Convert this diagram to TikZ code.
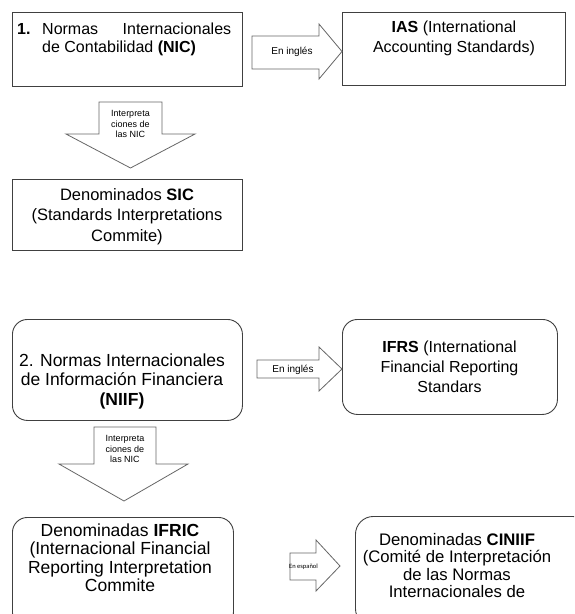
\documentclass[tikz,border=0pt]{standalone}
\usepackage{fontspec}
\setmainfont{Liberation Sans}
\newfontfamily\calib{Carlito}
\begin{document}
\begin{tikzpicture}[x=1pt,y=-1pt,
  box/.style={draw=black!75, line width=0.9pt, fill=white, inner sep=0pt, anchor=north west},
  rbox/.style={box, rounded corners=15pt},
  blockarrow/.style={draw=black!60, line width=0.8pt, fill=white, line join=miter},
  txt/.style={inner sep=0pt, anchor=north, align=center, text=black},
  small/.style={inner sep=0pt, align=center, text=black, font={\fontsize{9}{10.5}\selectfont}}
]
\useasboundingbox (0,0) rectangle (574,614);
\clip (0,0) rectangle (574,614);

% ---- boxes
\node[box, minimum width=230pt, minimum height=74pt] (nic) at (12,12) {};
\node[box, minimum width=223pt, minimum height=73pt] (ias) at (342,12) {};
\node[box, minimum width=230pt, minimum height=71pt] (sic) at (12,179) {};
\node[rbox, minimum width=230pt, minimum height=101pt] (niif) at (12,319) {};
\node[rbox, minimum width=215pt, minimum height=95pt] (ifrs) at (342,319) {};
\node[rbox, minimum width=221pt, minimum height=110pt] (ifric) at (12,517) {};
\node[box, rounded corners=18pt, minimum width=235pt, minimum height=110pt] (ciniif) at (355,516) {};

% ---- block arrows
\draw[blockarrow] (252,36) -- (319,36) -- (319,24) -- (342,51.5) -- (319,79) -- (319,69) -- (252,69) -- cycle;
\draw[blockarrow] (257,360) -- (319,360) -- (319,347) -- (342,369) -- (319,391) -- (319,378) -- (257,378) -- cycle;
\draw[blockarrow] (290,553) -- (316,553) -- (316,540) -- (340,566) -- (316,591) -- (316,580) -- (290,580) -- cycle;
\draw[blockarrow] (99,102) -- (162,102) -- (162,134) -- (195,134) -- (130.5,168) -- (66,134) -- (99,134) -- cycle;
\draw[blockarrow] (94,427) -- (156,427) -- (156,464) -- (188,464) -- (124,501) -- (59,464) -- (94,464) -- cycle;

% ---- texts
\node[inner sep=0pt, anchor=north west, align=left, font={\fontsize{16}{18}\selectfont}] (tnic) at (17,23)
  {\makebox[25pt][l]{\textbf{1.}}\makebox[189pt][s]{Normas\hfill Internacionales}\\\hspace*{25pt}de Contabilidad \textbf{(NIC)}};
\node[txt, font={\fontsize{16}{20}\selectfont}] (tias) at (454,21)
  {\textbf{IAS} (International\\Accounting Standards)};
\node[txt, font={\fontsize{16.5}{20.5}\selectfont}] (tsic) at (127,188)
  {Denominados \textbf{SIC}\\(Standards Interpretations\\Commite)};
\node[txt, font={\fontsize{17.5}{19.5}\selectfont}] (tniif) at (122,353.5)
  {2. Normas Internacionales\\de Información Financiera\\\textbf{(NIIF)}};
\node[txt, font={\fontsize{16}{20}\selectfont}] (tifrs) at (449.5,341)
  {\textbf{IFRS} (International\\Financial Reporting\\Standars};
\node[txt, font={\fontsize{17.5}{18.5}\selectfont}] (tifric) at (120,523.5)
  {Denominadas \textbf{IFRIC}\\(Internacional Financial\\Reporting Interpretation\\Commite};
\node[txt, font={\fontsize{16.7}{17.5}\selectfont}] (tciniif) at (457,533)
  {Denominadas \textbf{CINIIF}\\(Comité de Interpretación\\de las Normas\\Internacionales de};

% ---- arrow labels
\node[inner sep=0pt, font={\fontsize{10}{12}\selectfont}] (l1) at (292,51.5) {En inglés};
\node[inner sep=0pt, font={\fontsize{10}{12}\selectfont}] (l2) at (293,369.5) {En inglés};
\node[inner sep=0pt, font={\calib\fontsize{6.5}{8}\selectfont}] (l3) at (303.5,566.5) {En español};
\node[small, anchor=north] (l4) at (130.5,110.5) {Interpreta\\ciones de\\las NIC};
\node[small, anchor=north] (l5) at (125,435.5) {Interpreta\\ciones de\\las NIC};
\end{tikzpicture}
\end{document}
